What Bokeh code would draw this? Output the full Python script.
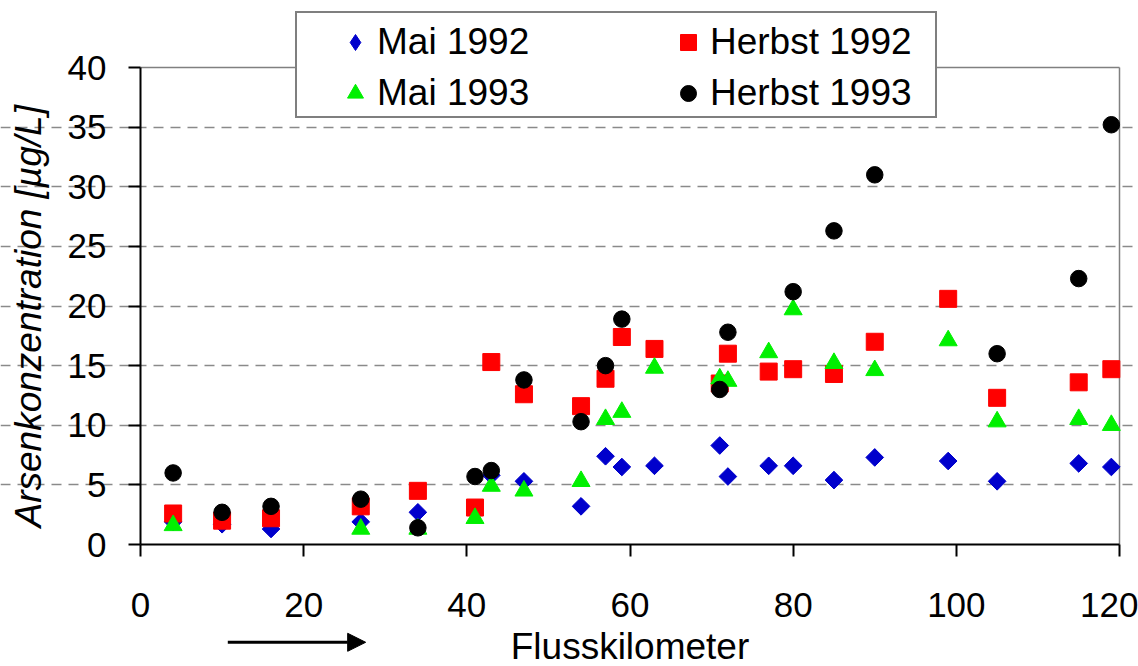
from bokeh.plotting import figure
from bokeh.models import (Range1d, FixedTicker, Legend, LegendItem, Arrow, NormalHead)
from bokeh.embed import file_html
from bokeh.resources import INLINE
import math

# ---- data ----
km_mai92 = [4, 10, 16, 27, 34, 43, 47, 54, 57, 59, 63, 71, 72, 77, 80, 85, 90, 99, 105, 115, 119]
as_mai92 = [1.9, 1.7, 1.3, 1.9, 2.7, 5.8, 5.3, 3.2, 7.4, 6.5, 6.6, 8.3, 5.7, 6.6, 6.6, 5.4, 7.3, 7.0, 5.3, 6.8, 6.5]

km_herbst92 = [4, 10, 16, 27, 34, 41, 43, 47, 54, 57, 59, 63, 71, 72, 77, 80, 85, 90, 99, 105, 115, 119]
as_herbst92 = [2.6, 2.0, 2.2, 3.2, 4.5, 3.1, 15.3, 12.6, 11.6, 13.9, 17.4, 16.4, 13.5, 16.0, 14.5, 14.7, 14.3, 17.0, 20.6, 12.3, 13.6, 14.7]

km_mai93 = [4, 27, 34, 41, 43, 47, 54, 57, 59, 63, 71, 72, 77, 80, 85, 90, 99, 105, 115, 119]
as_mai93 = [1.6, 1.3, 1.3, 2.2, 4.9, 4.5, 5.3, 10.5, 11.1, 14.8, 13.9, 13.7, 16.1, 19.7, 15.2, 14.6, 17.1, 10.3, 10.5, 10.0]

km_herbst93 = [4, 10, 16, 27, 34, 41, 43, 47, 54, 57, 59, 71, 72, 80, 85, 90, 105, 115, 119]
as_herbst93 = [6.0, 2.7, 3.2, 3.8, 1.4, 5.7, 6.2, 13.8, 10.3, 15.0, 18.9, 13.0, 17.8, 21.2, 26.3, 31.0, 16.0, 22.3, 35.2]

x_ticks = [0, 20, 40, 60, 80, 100, 120]
y_ticks = [0, 5, 10, 15, 20, 25, 30, 35, 40]
x_min, x_max = 0, 120
y_min, y_max = 0, 40

FONT = "Liberation Sans"
W, H = 1138, 666
# pixel placement of the data box inside the page
BOX_L, BOX_R, BOX_T, BOX_B = 140, 1119, 67, 544
px_per_x = (BOX_R - BOX_L) / (x_max - x_min)
px_per_y = (BOX_B - BOX_T) / (y_max - y_min)

# the frame covers the whole page; axes are pinned at 0 so nothing outside the data box is clipped
p = figure(width=W, height=H, output_backend="svg", toolbar_location=None,
           x_range=Range1d(x_min - BOX_L / px_per_x, x_max + (W - BOX_R) / px_per_x),
           y_range=Range1d(y_min - (H - BOX_B) / px_per_y, y_max + BOX_T / px_per_y),
           min_border_left=0, min_border_right=0, min_border_top=0, min_border_bottom=0)
p.background_fill_color = "white"
p.border_fill_color = "white"
p.outline_line_color = None

for ax in (p.xaxis[0], p.yaxis[0]):
    ax.axis_line_color = "black"
    ax.axis_line_width = 2
    ax.major_tick_line_color = "black"
    ax.major_tick_line_width = 2
    ax.major_tick_in = 0
    ax.major_tick_out = 12
    ax.minor_tick_line_color = None
    ax.major_label_text_font = FONT
    ax.major_label_text_font_size = "35px"
    ax.major_label_text_color = "black"
    ax.axis_label_text_font = FONT
    ax.axis_label_text_font_size = "37px"
    ax.axis_label_text_color = "black"
    ax.fixed_location = 0

xa, ya = p.xaxis[0], p.yaxis[0]
xa.ticker = FixedTicker(ticks=x_ticks)
ya.ticker = FixedTicker(ticks=y_ticks)
xa.bounds = (x_min, x_max)
ya.bounds = (y_min, y_max)
xa.major_label_standoff = 36
ya.major_label_standoff = 22
xa.axis_label = "Flusskilometer"
xa.axis_label_text_font_style = "normal"
xa.axis_label_standoff = 6
ya.axis_label = "Arsenkonzentration [µg/L]\u00a0\u00a0"
ya.axis_label_text_font_style = "italic"
ya.axis_label_standoff = 16

p.xgrid.grid_line_color = None
p.ygrid.ticker = FixedTicker(ticks=y_ticks[1:-1])
p.ygrid.bounds = (x_min, x_max)
p.ygrid.grid_line_color = "#8a8a8a"
p.ygrid.grid_line_width = 1.5
p.ygrid.grid_line_dash = "10 7"

# top and right borders of the data box
p.line(x=[x_min, x_max], y=[y_max, y_max], line_color="#808080", line_width=1.5)
p.line(x=[x_max, x_max], y=[y_min, y_max], line_color="#808080", line_width=1.5)

# series (drawn in Excel series order)
# diamond glyph lying fully underneath the rotated squares: it supplies the legend swatch
r_mai92_key = p.scatter(km_mai92, as_mai92, marker="diamond", size=16,
                        fill_color="#0000CC", line_color="#0000CC")
r_mai92 = p.scatter(km_mai92, as_mai92, marker="square", angle=math.pi / 4, size=12.5,
                    fill_color="#0000CC", line_color="#0000CC")
r_herbst92 = p.scatter(km_herbst92, as_herbst92, marker="square", size=17,
                       fill_color="#FF0000", line_color="#FF0000")
r_mai93 = p.scatter(km_mai93, as_mai93, marker="triangle", size=18,
                    fill_color="#00F000", line_color="#00F000")
r_herbst93 = p.scatter(km_herbst93, as_herbst93, marker="circle", size=16.5,
                       fill_color="black", line_color="black")

# legend: a framed box plus two borderless columns placed on top
box_legend = Legend(items=[LegendItem(label=" ", renderers=[r_mai92_key])],
                    location=(295, H - 118), padding=0, margin=0, spacing=0,
                    glyph_width=0, glyph_height=103, label_width=638, label_height=103,
                    label_standoff=0, border_line_color="black", border_line_width=2,
                    background_fill_color="white", background_fill_alpha=1.0)
col_style = dict(padding=0, margin=0, spacing=5, glyph_width=40, glyph_height=46,
                 label_height=46, label_standoff=2, label_text_font=FONT,
                 label_text_font_size="37px", label_text_color="black",
                 border_line_color=None, background_fill_alpha=0.0)
leg_mai = Legend(items=[LegendItem(label="Mai 1992", renderers=[r_mai92_key]),
                        LegendItem(label="Mai 1993", renderers=[r_mai93])],
                 location=(335, H - 116), **col_style)
leg_herbst = Legend(items=[LegendItem(label="Herbst 1992", renderers=[r_herbst92]),
                           LegendItem(label="Herbst 1993", renderers=[r_herbst93])],
                    location=(668, H - 116), **col_style)
p.add_layout(box_legend, "center")
p.add_layout(leg_mai, "center")
p.add_layout(leg_herbst, "center")

# flow-direction arrow below the x axis
arrow_x0, arrow_x1, arrow_y = 10.7, 27.6, -8.2
p.add_layout(Arrow(end=NormalHead(size=18, fill_color="black", line_color="black"),
                   x_start=arrow_x0, y_start=arrow_y, x_end=arrow_x1, y_end=arrow_y,
                   line_width=3, line_color="black"))

open("out.html", "w").write(file_html(p, INLINE))
